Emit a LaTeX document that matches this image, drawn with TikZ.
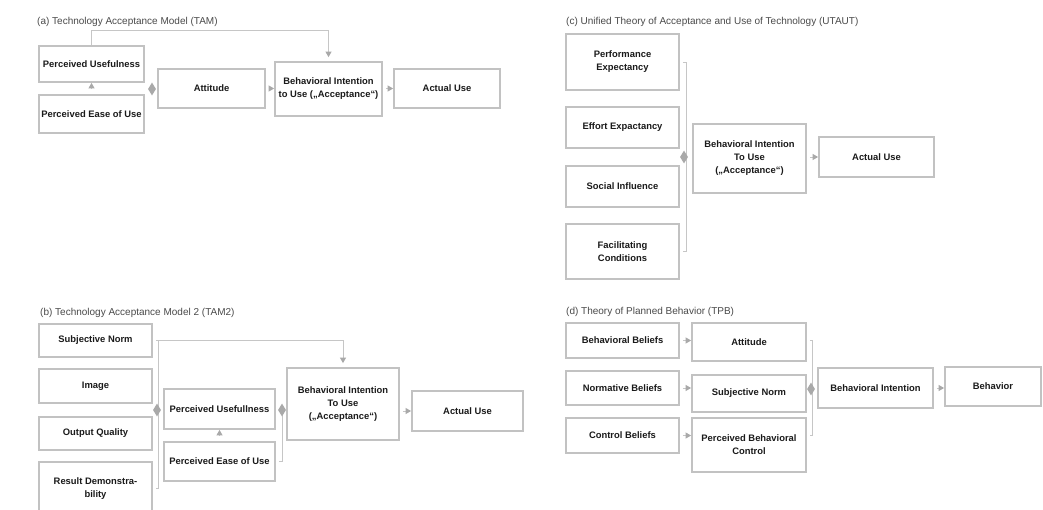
\documentclass[tikz,border=0pt]{standalone}
\usepackage{fontspec}
\setmainfont{Liberation Sans}
\usetikzlibrary{arrows.meta,shapes.geometric}

\definecolor{boxline}{HTML}{C2C2C2}
\definecolor{wireline}{HTML}{C6C6C6}
\definecolor{tipgray}{HTML}{A9A9A9}
\definecolor{txt}{HTML}{1A1A1A}
\definecolor{ttl}{HTML}{4A4A4A}

\tikzset{
  box/.style={draw=boxline, line width=1.8pt, fill=white, inner sep=0pt,
    align=center, font=\fontsize{9.4}{13}\selectfont\bfseries, text=txt},
  wire/.style={draw=wireline, line width=0.9pt},
  arr/.style={wire, -{Triangle[width=6pt,length=5.5pt,color=tipgray]}},
  junction/.style={diamond, fill=tipgray, draw=none, minimum width=8pt,
    minimum height=13pt, inner sep=0pt},
  title/.style={anchor=west, inner sep=0pt, font=\fontsize{10}{12}\selectfont, text=ttl},
}

% box from its corners: name, x1, y1, x2, y2, text
\newcommand\cornerbox[6]{%
  \node[box, minimum width={#4-#2}, minimum height={#5-#3}] (#1)
    at ({(#2+#4)/2},{(#3+#5)/2}) {#6};}

\begin{document}
\begin{tikzpicture}[x=1pt, y=-1pt]
\useasboundingbox (0,0) rectangle (1043,509);
\clip (0,0) rectangle (1043,509);
\fill[white] (0,0) rectangle (1043,509);

% ---------- (a) TAM ----------
\node[title] (ta) at (37,22) {(a) Technology Acceptance Model (TAM)};
\cornerbox{apu}{39}{46}{144}{82}{Perceived Usefulness}
\cornerbox{apeou}{39}{95}{144}{133}{Perceived Ease of Use}
\cornerbox{aatt}{158}{69}{265}{108}{Attitude}
\cornerbox{abi}{275}{62}{382}{116}{Behavioral Intention\\to Use („Acceptance“)}
\cornerbox{aau}{394}{69}{500}{108}{Actual Use}
\node[junction] (aj) at (152,89) {};
\draw[arr, shorten <=6pt] (apeou.north) -- (apu.south);
\draw[arr, shorten >=4pt] (apu.north) -- ++(0,-15) -| (abi.north);
\draw[arr, shorten <=3pt] (aatt.east) -- (aatt.east -| abi.west);
\draw[arr, shorten <=3pt] (aau.west -| abi.east) -- (aau.west);

% ---------- (c) UTAUT ----------
\node[title] (tc) at (566,22) {(c) Unified Theory of Acceptance and Use of Technology (UTAUT)};
\cornerbox{cpe}{566}{34}{679}{90}{Performance\\Expectancy}
\cornerbox{cee}{566}{107}{679}{148}{Effort Expactancy}
\cornerbox{csi}{566}{166}{679}{207}{Social Influence}
\cornerbox{cfc}{566}{224}{679}{279}{Facilitating\\Conditions}
\cornerbox{cbi}{693}{124}{806}{193}{Behavioral Intention\\To Use\\(„Acceptance“)}
\cornerbox{cau}{819}{137}{934}{177}{Actual Use}
\coordinate (cbar) at (686,157);
\draw[wire] ([xshift=3pt]cpe.east) -- (cpe.east -| cbar) -- (cfc.east -| cbar) -- ([xshift=3pt]cfc.east);
\node[junction] (cj) at (684,157) {};
\draw[arr, shorten <=3pt] (cau.west -| cbi.east) -- (cau.west);

% ---------- (b) TAM2 ----------
\node[title] (tb) at (40,313) {(b) Technology Acceptance Model 2 (TAM2)};
\cornerbox{bsn}{39}{324}{152}{357}{Subjective Norm}
\cornerbox{bim}{39}{369}{152}{403}{Image}
\cornerbox{boq}{39}{417}{152}{450}{Output Quality}
\cornerbox{brd}{39}{462}{152}{515}{Result Demonstra-\\bility}
\cornerbox{bpu}{164}{389}{275}{429}{Perceived Usefullness}
\cornerbox{bpeou}{164}{442}{275}{481}{Perceived Ease of Use}
\cornerbox{bbi}{287}{368}{399}{440}{Behavioral Intention\\To Use\\(„Acceptance“)}
\cornerbox{bau}{412}{391}{523}{431}{Actual Use}
\coordinate (bbar) at (158,410);
\draw[wire] (bsn.east -| bbar) -- (brd.east -| bbar) -- ([xshift=3pt]brd.east);
\draw[arr, shorten >=4pt] ([xshift=3pt]bsn.east) -| (bbi.north);
\node[junction] (bj1) at (157,410) {};
\coordinate (bbar2) at (282,410);
\draw[wire] (bbar2) -- (bpeou.east -| bbar2) -- ([xshift=3pt]bpeou.east);
\node[junction] (bj2) at (282,410) {};
\draw[arr, shorten <=6pt] (bpeou.north) -- (bpu.south);
\draw[arr, shorten <=3pt] (bau.west -| bbi.east) -- (bau.west);

% ---------- (d) TPB ----------
\node[title] (td) at (566,312) {(d) Theory of Planned Behavior (TPB)};
\cornerbox{dbb}{566}{323}{679}{358}{Behavioral Beliefs}
\cornerbox{dnb}{566}{371}{679}{405}{Normative Beliefs}
\cornerbox{dcb}{566}{418}{679}{453}{Control Beliefs}
\cornerbox{datt}{692}{323}{806}{361}{Attitude}
\cornerbox{dsn}{692}{375}{806}{412}{\raisebox{-3pt}{Subjective Norm}}
\cornerbox{dpbc}{692}{418}{806}{472}{Perceived Behavioral\\Control}
\cornerbox{dbi}{818}{368}{933}{408}{Behavioral Intention}
\cornerbox{dbeh}{945}{367}{1041}{406}{Behavior}
\draw[arr, shorten <=3pt] (dbb.east) -- (dbb.east -| datt.west);
\draw[arr, shorten <=3pt] (dnb.east) -- (dnb.east -| dsn.west);
\draw[arr, shorten <=3pt] (dcb.east) -- (dcb.east -| dpbc.west);
\coordinate (dbar) at (812,389);
\draw[wire] ([xshift=3pt]datt.east |- dbb.east) -- (dbb.east -| dbar) -- (dcb.east -| dbar) -- ([xshift=3pt]dpbc.east |- dcb.east);
\node[junction] (dj) at (811,389) {};
\draw[arr, shorten <=3pt] (dbi.east) -- (dbi.east -| dbeh.west);
\end{tikzpicture}
\end{document}
